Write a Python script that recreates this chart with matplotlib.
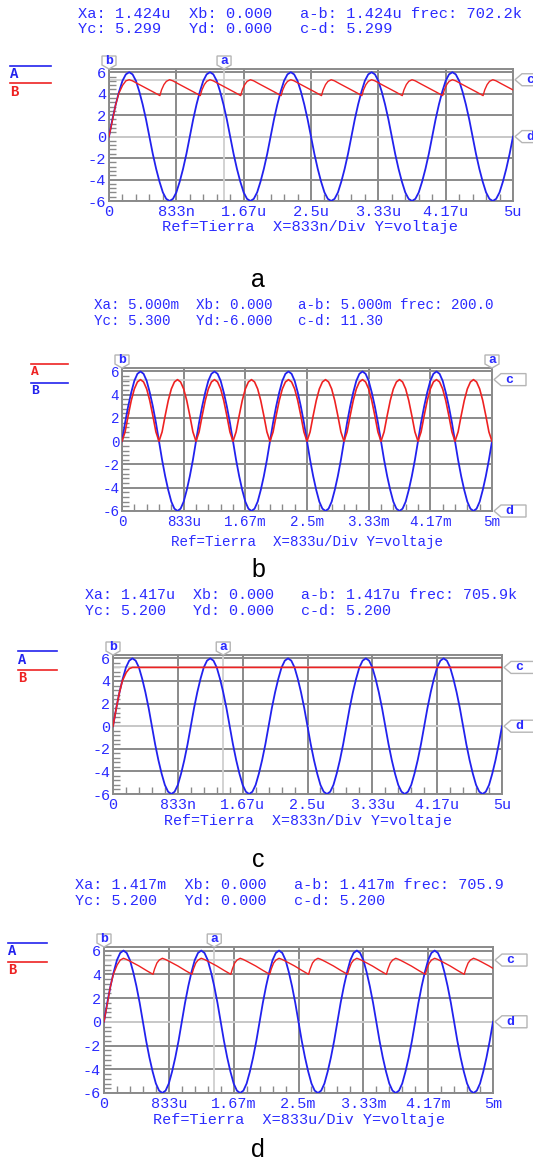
import numpy as np
import matplotlib
matplotlib.use('Agg')
import matplotlib.pyplot as plt
from matplotlib.patches import Polygon
from matplotlib.transforms import IdentityTransform
from matplotlib.ticker import MultipleLocator

# ---- datos ----
# un ciclo de la senoidal de entrada (24 muestras por periodo), 5 periodos en pantalla
ciclo_seno = [0, 1.6, 3.0, 4.2, 5.2, 5.8, 6.0, 5.8, 5.2, 4.2, 3.0, 1.6,
              0, -1.6, -3.0, -4.2, -5.2, -5.8, -6.0, -5.8, -5.2, -4.2, -3.0, -1.6]
# medio ciclo del rectificado sin filtro (panel b)
medio_rect = [0, 0.8, 2.2, 3.5, 4.5, 5.1, 5.3, 5.1, 4.5, 3.5, 2.2, 0.8]

# carga inicial del capacitor (tiempo en unidades de pantalla 0..5)
t_carga = [0, 0.04, 0.08, 0.12, 0.17, 0.21, 0.25]
v_carga_a = [0, 1.4, 2.9, 4.0, 4.8, 5.2, 5.3]
v_carga_d = [0, 1.4, 2.9, 4.0, 4.8, 5.2, 5.35]
# rizo: desplazamientos despues de cada pico y voltajes
dt_rizo = [0.04, 0.1, 0.2, 0.3, 0.38, 0.40, 0.43, 0.46, 0.5]
v_rizo_a = [5.2, 4.95, 4.55, 4.15, 3.82, 4.35, 4.85, 5.15, 5.3]
v_rizo_d = [5.25, 5.05, 4.7, 4.3, 4.0, 4.45, 4.95, 5.2, 5.35]
# panel c: capacitor grande, salida plana
t_plano = [0, 0.04, 0.08, 0.12, 0.17, 0.21, 0.25, 5.0]
v_plano = [0, 1.5, 2.9, 4.0, 4.75, 5.1, 5.2, 5.2]

etiq_u = ['0', '833n', '1.67u', '2.5u', '3.33u', '4.17u', '5u']
etiq_m = ['0', '833u', '1.67m', '2.5m', '3.33m', '4.17m', '5m']
etiq_y = ['-6', '-4', '-2', '0', '2', '4', '6']

cab_a = ["Xa: 1.424u  Xb: 0.000   a-b: 1.424u frec: 702.2k",
         "Yc: 5.299   Yd: 0.000   c-d: 5.299"]
cab_b = ["Xa: 5.000m  Xb: 0.000   a-b: 5.000m frec: 200.0",
         "Yc: 5.300   Yd:-6.000   c-d: 11.30"]
cab_c = ["Xa: 1.417u  Xb: 0.000   a-b: 1.417u frec: 705.9k",
         "Yc: 5.200   Yd: 0.000   c-d: 5.200"]
cab_d = ["Xa: 1.417m  Xb: 0.000   a-b: 1.417m frec: 705.9",
         "Yc: 5.200   Yd: 0.000   c-d: 5.200"]
ref_u = "Ref=Tierra  X=833n/Div Y=voltaje"
ref_m = "Ref=Tierra  X=833u/Div Y=voltaje"

# cursores (xa, yc, yd)
cur_a = (1.424, 5.299, 0.0)
cur_b = (5.0, 5.3, -6.0)
cur_c = (1.417, 5.2, 0.0)
cur_d = (1.417, 5.2, 0.0)

# ---- series ----
v_seno = np.append(np.tile(ciclo_seno, 5), 0.0)
t_seno = np.linspace(0, 5, len(v_seno))
v_rect = np.append(np.tile(medio_rect, 10), 0.0)

t_rizo = list(t_carga)
for k in range(10):
    t_rizo += [0.25 + 0.5 * k + d for d in dt_rizo]
v_rizo_a_tot = v_carga_a + v_rizo_a * 10
v_rizo_d_tot = v_carga_d + v_rizo_d * 10

W, H = 533, 1164
fig = plt.figure(figsize=(W / 100, H / 100), dpi=100)
fig.patch.set_facecolor('white')

AZUL = '#2222ee'
ROJO = '#ee2222'
TXT = '#2b2bff'
MONO = 'Liberation Mono'
GRIS = '#8a8a8a'
CLARO = '#cfcfcf'
ID = IdentityTransform()


def px(x, y):
    return x / W, 1 - y / H


def bandera(X, Y, letra, tipo):
    if tipo == 'arriba':
        pts = [(X, Y), (X - 7, Y + 4), (X - 7, Y + 13), (X + 7, Y + 13), (X + 7, Y + 4)]
        cx, cy = X, Y + 8
    else:
        pts = [(X + 2, Y), (X + 9, Y + 6), (X + 34, Y + 6), (X + 34, Y - 6), (X + 9, Y - 6)]
        cx, cy = X + 17, Y
    fig.add_artist(Polygon(pts, closed=True, transform=ID, facecolor='white',
                           edgecolor='#b5b5b5', lw=1, zorder=5))
    fig.text(cx, cy, letra, transform=ID, ha='center', va='center', color=TXT,
             family=MONO, fontsize=9.5, fontweight='bold', zorder=6)


def panel(caja, cab, xcab, ycab, fs, leg, trazas, cur, etiq, ref, xref, yref, letra, ylet):
    x0, y0, x1, y1 = caja
    ax = fig.add_axes([x0 / W, 1 - y1 / H, (x1 - x0) / W, (y1 - y0) / H])
    ax.set_xlim(0, 5)
    ax.set_ylim(-6, 6.3)
    ax.set_facecolor('white')
    ax.set_xticks(np.linspace(0, 5, 7))
    ax.set_xticklabels(etiq, family=MONO, fontsize=fs, color=TXT)
    ax.set_yticks(np.arange(-6, 7, 2))
    ax.set_yticklabels(etiq_y, family=MONO, fontsize=fs, color=TXT)
    ax.xaxis.set_minor_locator(MultipleLocator(5 / 30))
    ax.yaxis.set_minor_locator(MultipleLocator(0.4))
    ax.tick_params(which='major', length=0, pad=3)
    ax.tick_params(axis='y', which='major', pad=2)
    ax.tick_params(which='minor', direction='in', length=5, width=1, color=GRIS)
    ax.grid(True, which='major', color=GRIS, lw=1.4)
    ax.set_axisbelow(True)
    for s in ax.spines.values():
        s.set_color(GRIS)
        s.set_linewidth(1.4)

    xa, yc, yd = cur
    ax.axvline(xa, color=CLARO, lw=1.3, zorder=1.5)
    ax.axhline(yc, color=CLARO, lw=1.3, zorder=1.5)
    ax.axhline(yd, color=CLARO, lw=1.3, zorder=1.5)

    for t, v, col, lw in trazas:
        ax.plot(t, v, color=col, lw=lw, zorder=3)

    # banderas de cursores
    arr = ax.transAxes.transform((0, 1))[1]
    der = ax.transAxes.transform((1, 0))[0]
    bandera(ax.transData.transform((0, 0))[0], arr, 'b', 'arriba')
    bandera(ax.transData.transform((xa, 0))[0], arr, 'a', 'arriba')
    bandera(der, ax.transData.transform((0, yc))[1], 'c', 'derecha')
    bandera(der, ax.transData.transform((0, yd))[1], 'd', 'derecha')

    # cabecera
    for s, yy in zip(cab, ycab):
        fig.text(*px(xcab, yy), s, ha='left', va='center', family=MONO,
                 fontsize=fs, color=TXT)
    # leyenda A / B
    lx0, lx1, ylin, ytxt, cols = leg
    for yl, yt, nom, col in zip(ylin, ytxt, ['A', 'B'], cols):
        fig.add_artist(plt.Line2D([lx0 / W, lx1 / W], [1 - yl / H, 1 - yl / H],
                                  color=col, lw=1.2))
        fig.text(*px(lx0, yt), nom, ha='left', va='center', family=MONO,
                 fontsize=fs - 1, fontweight='bold', color=col)
    fig.text(*px(xref, yref), ref, ha='center', va='center', family=MONO,
             fontsize=fs, color=TXT)
    fig.text(*px(258, ylet), letra, ha='center', va='baseline',
             family='Liberation Sans', fontsize=18, color='black')
    return ax


panel((109, 69, 513, 201), cab_a, 78, (13.6, 28.8), 11.1,
      (10, 51, (66, 83), (74, 92), (AZUL, ROJO)),
      [(t_seno, v_seno, AZUL, 1.3), (t_rizo, v_rizo_a_tot, ROJO, 1.0)],
      cur_a, etiq_u, ref_u, 310, 227, 'a', 287)

panel((122, 368, 492, 511), cab_b, 94, (305, 321), 10.3,
      (31, 68, (364, 383), (372, 391), (ROJO, AZUL)),
      [(t_seno, v_seno, AZUL, 1.3), (t_seno, v_rect, ROJO, 1.2)],
      cur_b, etiq_m, ref_m, 307, 542, 'b', 577)

panel((113, 655, 502, 794), cab_c, 85, (595, 611), 10.8,
      (18, 57, (651, 670), (660, 678), (AZUL, ROJO)),
      [(t_seno, v_seno, AZUL, 1.3), (t_plano, v_plano, ROJO, 1.2)],
      cur_c, etiq_u, ref_u, 308, 821, 'c', 867)

panel((104, 947, 493, 1093), cab_d, 75, (885, 901), 10.9,
      (8, 47, (943, 962), (951, 970), (AZUL, ROJO)),
      [(t_seno, v_seno, AZUL, 1.3), (t_rizo, v_rizo_d_tot, ROJO, 1.0)],
      cur_d, etiq_m, ref_m, 299, 1120, 'd', 1157)

fig.savefig('out.png', dpi=100)
